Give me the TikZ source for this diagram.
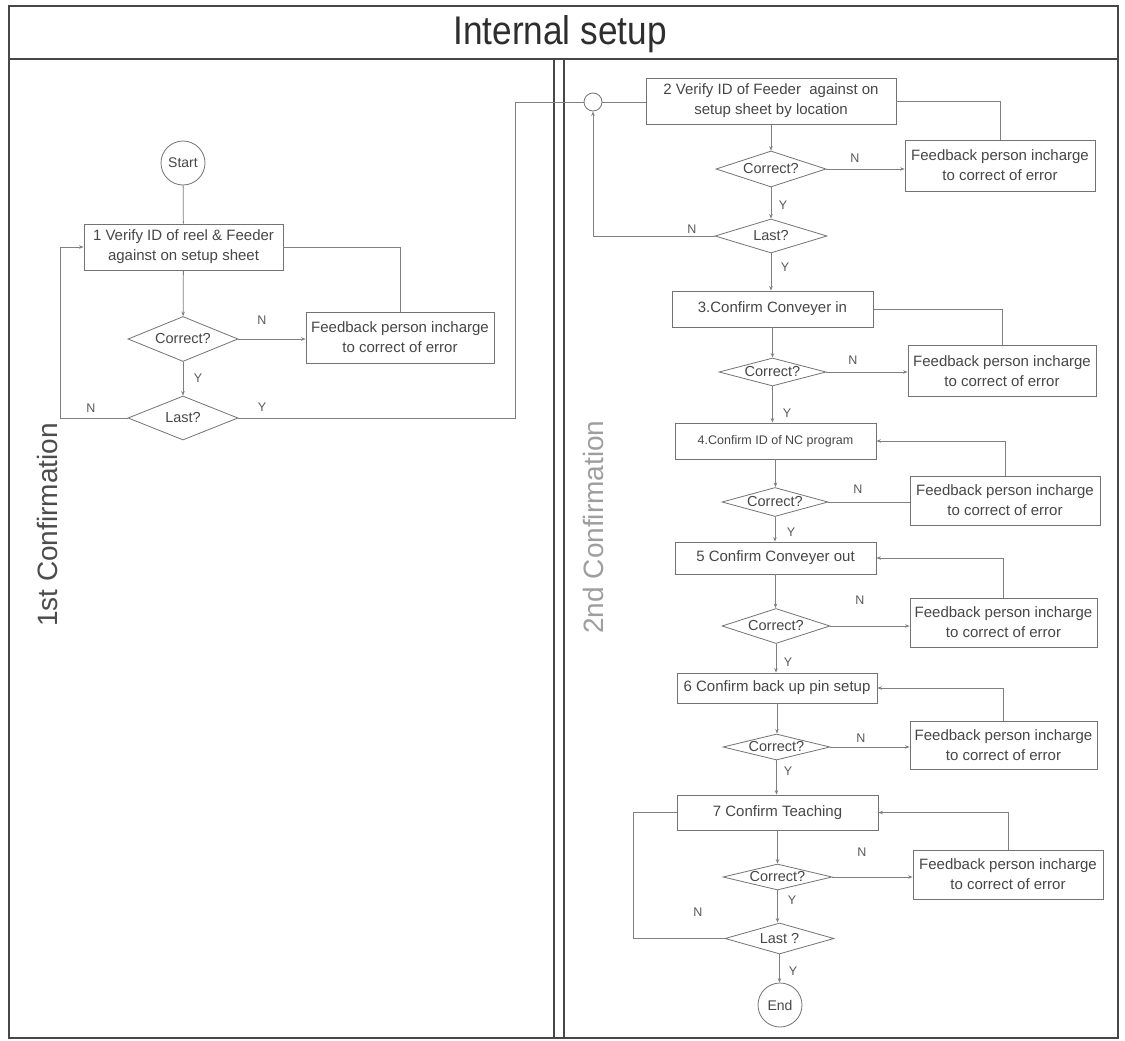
\documentclass[tikz,border=0pt]{standalone}
\usepackage{fontspec}
\setmainfont{Liberation Sans}
\newfontfamily\narrowsans[FakeStretch=0.88]{Liberation Sans}
\usetikzlibrary{arrows.meta,shapes.geometric}

\begin{document}
\begin{tikzpicture}[x=1pt,y=-1pt,
  frame/.style={draw=black!72, line width=1.3pt},
  flow/.style={draw=black!50, line width=0.8pt},
  arr/.style={flow, -{Stealth[length=4.5pt,width=3.5pt]}},
  boxfont/.style={font=\fontsize{15}{20}\selectfont},
  stepbox/.style={draw=black!55, line width=0.8pt, rectangle, inner sep=0pt,
    align=center, boxfont, text=black!72},
  fbbox/.style={stepbox},
  decision/.style={draw=black!55, line width=0.8pt, diamond, shape aspect=4,
    inner sep=0pt, font=\fontsize{14.5}{16}\selectfont, text=black!72},
  terminal/.style={draw=black!55, line width=0.8pt, circle, inner sep=0pt,
    font=\fontsize{14}{16}\selectfont, text=black!72},
  yn/.style={font=\fontsize{12.5}{14}\selectfont, text=black!65, inner sep=0pt},
  lane/.style={font=\fontsize{28}{30}\selectfont, rotate=90, anchor=base, inner sep=0pt}
]
\useasboundingbox (0,0) rectangle (1125,1041);
\fill[white] (0,0) rectangle (1125,1041);

% ---------- frame, title band and the two lanes ----------
\draw[frame] (9,6) rectangle (1118,1038);
\draw[frame] (9,59) -- (1118,59);
\draw[frame] (554,59) -- (554,1038);
\draw[frame] (564,59) -- (564,1038);
\node[font=\narrowsans\fontsize{40}{44}\selectfont, text=black!82, anchor=base, inner sep=0pt]
  (title) at (560,45) {Internal setup};
\node[lane, text=black!70] (lane1) at (57,525) {1st Confirmation};
\node[lane, text=black!38] (lane2) at (603,527) {2nd Confirmation};

% ---------- 1st confirmation ----------
\node[terminal, minimum size=44pt] (start) at (183,163) {Start};
\node[stepbox, minimum width=199pt, minimum height=46pt] (b1) at (183.5,247)
  {1 Verify ID of reel \& Feeder\\against on setup sheet};
\node[decision, minimum width=110pt, minimum height=45pt] (c1) at (183,339) {Correct?};
\node[fbbox, minimum width=188pt, minimum height=51pt] (f1) at (400,337.5)
  {Feedback person incharge\\to correct of error};
\node[decision, minimum width=110pt, minimum height=44pt] (l1) at (183,418) {Last?};
\coordinate (lp1) at (60,418);
\coordinate (rp1) at (515,418);

\draw[flow] (start) -- (b1);
\draw[arr] (b1) -- (c1);
\draw[arr] (c1.east) -- (c1.east -| f1.west);
\draw[flow] (f1.north) |- (b1.east);
\draw[arr] (c1) -- (l1);
\draw[arr] (l1.west) -- (lp1) |- (b1.west);

\node[yn] (n1) at (262,320) {N};
\node[yn] (y1) at (198,378) {Y};
\node[yn] (n1b) at (91,408) {N};
\node[yn] (y1b) at (262,407) {Y};

% ---------- 2nd confirmation ----------
\node[terminal, minimum size=18pt] (jn) at (593,102) {};
\node[stepbox, minimum width=250pt, minimum height=46pt] (b2) at (771,101)
  {2 Verify ID of Feeder\ \ against on\\setup sheet by location};
\node[decision, minimum width=110pt, minimum height=36pt] (c2) at (771,169) {Correct?};
\node[fbbox, minimum width=190pt, minimum height=51pt] (f2) at (1000,165.5)
  {Feedback person incharge\\to correct of error};
\node[decision, minimum width=112pt, minimum height=34pt] (l2) at (771,236) {Last?};
\coordinate (lp2) at (593,236);

\node[stepbox, minimum width=201pt, minimum height=36pt] (b3) at (772.5,309) {3.Confirm Conveyer in};
\node[decision, minimum width=107pt, minimum height=28pt] (c3) at (772.5,372) {Correct?};
\node[fbbox, minimum width=188pt, minimum height=51pt] (f3) at (1002,371)
  {Feedback person incharge\\to correct of error};

\node[stepbox, minimum width=201pt, minimum height=36pt, font=\fontsize{12.5}{15}\selectfont]
  (b4) at (775.5,441) {4.Confirm ID of NC program};
\node[decision, minimum width=106pt, minimum height=29pt] (c4) at (775,502) {Correct?};
\node[fbbox, minimum width=190pt, minimum height=49pt] (f4) at (1005,500.5)
  {Feedback person incharge\\to correct of error};

\node[stepbox, minimum width=201pt, minimum height=32pt] (b5) at (775.5,558) {5 Confirm Conveyer out};
\node[decision, minimum width=108pt, minimum height=35pt] (c5) at (776,626) {Correct?};
\node[fbbox, minimum width=187pt, minimum height=49pt] (f5) at (1003.5,622.5)
  {Feedback person incharge\\to correct of error};

\node[stepbox, minimum width=200pt, minimum height=30pt] (b6) at (777,688) {6 Confirm back up pin setup};
\node[decision, minimum width=107pt, minimum height=26pt] (c6) at (776.5,747) {Correct?};
\node[fbbox, minimum width=187pt, minimum height=48pt] (f6) at (1003.5,745)
  {Feedback person incharge\\to correct of error};

\node[stepbox, minimum width=201pt, minimum height=35pt] (b7) at (777.5,812.5) {7 Confirm Teaching};
\node[decision, minimum width=109pt, minimum height=26pt] (c7) at (777.5,877) {Correct?};
\node[fbbox, minimum width=190pt, minimum height=49pt] (f7) at (1008,874.5)
  {Feedback person incharge\\to correct of error};
\node[decision, minimum width=109pt, minimum height=31pt] (l7) at (779.5,938.5) {Last ?};
\coordinate (lp7) at (633,938.5);
\node[terminal, minimum size=44pt] (end) at (780,1005) {End};

% hand-over from the 1st lane
\draw[flow] (l1.east) -- (rp1) |- (jn.west);
\draw[flow] (jn.east) -- (jn.east -| b2.west);

% step 2
\draw[arr] (b2) -- (c2);
\draw[arr] (c2.east) -- (c2.east -| f2.west);
\draw[flow] (f2.north) |- (b2.east);
\draw[arr] (c2) -- (l2);
\draw[arr] (l2.west) -- (lp2) -- (jn.south);
\draw[arr] (l2.south) -- (l2.south |- b3.north);

% step 3
\draw[arr] (b3.south) -- (b3.south |- c3.north);
\draw[arr] (c3.east) -- (c3.east -| f3.west);
\draw[flow] (f3.north) |- (b3.east);
\draw[arr] (c3.south) -- (c3.south |- b4.north);

% step 4
\draw[arr] (b4.south) -- (b4.south |- c4.north);
\draw[flow] (c4.east) -- (c4.east -| f4.west);
\draw[arr] (f4.north) |- (b4.east);
\draw[arr] (c4.south) -- (c4.south |- b5.north);

% step 5
\draw[arr] (b5.south) -- (b5.south |- c5.north);
\draw[arr] (c5.east) -- (c5.east -| f5.west);
\draw[arr] (f5.north) |- (b5.east);
\draw[arr] (c5.south) -- (c5.south |- b6.north);

% step 6
\draw[arr] (b6.south) -- (b6.south |- c6.north);
\draw[arr] (c6.east) -- (c6.east -| f6.west);
\draw[arr] (f6.north) |- (b6.east);
\draw[arr] (c6.south) -- (c6.south |- b7.north);

% step 7
\draw[arr] (b7.south) -- (b7.south |- c7.north);
\draw[arr] (c7.east) -- (c7.east -| f7.west);
\draw[arr] (f7.north) |- (b7.east);
\draw[arr] (c7.south) -- (c7.south |- l7.north);
\draw[flow] (l7.west) -- (lp7) |- (b7.west);
\draw[arr] (l7.south) -- (l7.south |- end.north);

% branch labels
\node[yn] (n2) at (855,158) {N};
\node[yn] (y2) at (783,205) {Y};
\node[yn] (n2b) at (692,229) {N};
\node[yn] (y2b) at (785,267) {Y};
\node[yn] (n3) at (853,360) {N};
\node[yn] (y3) at (787,413) {Y};
\node[yn] (n4) at (858,489) {N};
\node[yn] (y4) at (791,532) {Y};
\node[yn] (n5) at (860,600) {N};
\node[yn] (y5) at (788,662) {Y};
\node[yn] (n6) at (861,738) {N};
\node[yn] (y6) at (788,771) {Y};
\node[yn] (n7) at (862,852) {N};
\node[yn] (y7) at (792,900) {Y};
\node[yn] (n7b) at (698,912) {N};
\node[yn] (y7b) at (793,971) {Y};
\end{tikzpicture}
\end{document}
